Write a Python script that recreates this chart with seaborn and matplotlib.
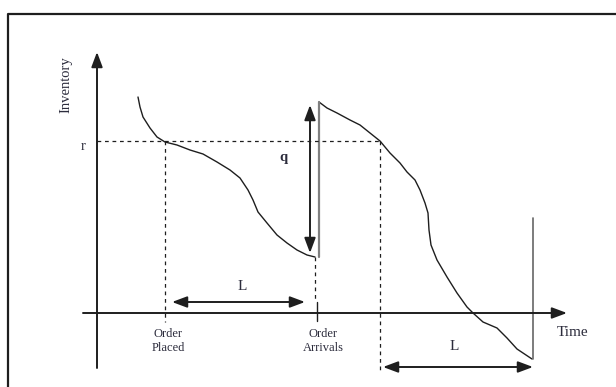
import matplotlib
matplotlib.use("Agg")
import matplotlib.pyplot as plt
import seaborn as sns
import pandas as pd

# inventory curves (time, inventory level)
cycle1_time = [4.1, 4.3, 4.6, 5.3, 6.0, 6.8, 8.0, 9.3, 10.6, 12.0, 13.3, 14.3, 15.1, 15.6,
               16.1, 17.0, 18.0, 19.0, 20.0, 21.0, 21.8]
cycle1_inv = [21.6, 20.6, 19.6, 18.5, 17.6, 17.1, 16.8, 16.3, 15.9, 15.1, 14.3, 13.5, 12.3, 11.3,
              10.1, 9.0, 7.8, 7.0, 6.3, 5.8, 5.6]
cycle2_time = [22.2, 23.0, 24.0, 25.3, 26.3, 27.3, 28.3, 29.3, 30.3, 31.0, 31.8, 32.3, 32.8,
               33.1, 33.2, 33.4, 34.0, 35.0, 36.0, 37.0, 37.6, 38.6, 40.0, 41.0, 42.0, 43.5]
cycle2_inv = [21.1, 20.5, 20.0, 19.3, 18.8, 18.0, 17.2, 16.0, 15.0, 14.1, 13.3, 12.3, 11.0,
              10.0, 8.3, 6.8, 5.3, 3.6, 2.0, 0.6, 0.0, -0.9, -1.5, -2.5, -3.6, -4.6]

reorder_point = 17.2
order_placed = 6.8
order_arrives = 22.0
order2_placed = 28.3
horizon_end = 43.6

sns.set_theme(style="white")
plt.rcParams["font.family"] = ["Liberation Serif", "DejaVu Serif"]

fig = plt.figure(figsize=(6.16, 3.87), dpi=100)
ax = fig.add_axes([0, 0, 1, 1])
ax.set_xlim(-9.7, 51.9)
ax.set_ylim(-7.4, 31.3)
ax.axis("off")

ink = "#1e1e1e"
txt = "#2c2c3c"

# outer frame
ax.plot([-8.9, -8.9, 51.9], [-7.4, 29.9, 29.9], color=ink, lw=1.6, clip_on=False)

# axes with arrows
ax.annotate("", xy=(0, 26.1), xytext=(0, -5.5),
            arrowprops=dict(arrowstyle="-|>,head_length=0.75,head_width=0.28",
                            color=ink, lw=1.4, mutation_scale=12, shrinkA=0, shrinkB=0))
ax.annotate("", xy=(47.0, 0), xytext=(-1.4, 0),
            arrowprops=dict(arrowstyle="-|>,head_length=0.75,head_width=0.28",
                            color=ink, lw=1.4, mutation_scale=12, shrinkA=0, shrinkB=0))

# curves
c1 = pd.DataFrame({"t": cycle1_time, "inv": cycle1_inv})
c2 = pd.DataFrame({"t": cycle2_time, "inv": cycle2_inv})
sns.lineplot(data=c1, x="t", y="inv", sort=False, color=ink, lw=1.0, ax=ax)
sns.lineplot(data=c2, x="t", y="inv", sort=False, color=ink, lw=1.0, ax=ax)

# replenishment jump and end line
ax.plot([cycle2_time[0], cycle2_time[0]], [cycle1_inv[-1], cycle2_inv[0]], color="#808080", lw=1.6)
ax.plot([horizon_end, horizon_end], [9.5, cycle2_inv[-1]], color="#666666", lw=1.2)

# dashed guides
dash = dict(color=ink, lw=0.9, ls=(0, (3, 3)))
ax.plot([0, order2_placed], [reorder_point, reorder_point], **dash)
ax.plot([order_placed, order_placed], [reorder_point, -0.9], **dash)
ax.plot([order_arrives - 0.2, order_arrives - 0.2], [cycle1_inv[-1], 1.1], **dash)
ax.plot([order_arrives, order_arrives], [1.1, -0.8], color=ink, lw=1.0)
ax.plot([order2_placed, order2_placed], [reorder_point, -5.9], **dash)

# double arrows
dbl = dict(arrowstyle="<|-|>,head_length=0.75,head_width=0.28", color=ink, lw=1.4,
           mutation_scale=12, shrinkA=0, shrinkB=0)
ax.annotate("", xy=(7.5, 1.1), xytext=(20.8, 1.1), arrowprops=dbl)
ax.annotate("", xy=(28.6, -5.4), xytext=(43.6, -5.4), arrowprops=dbl)
ax.annotate("", xy=(21.3, 20.8), xytext=(21.3, 6.0), arrowprops=dbl)

# labels
ax.text(-3.1, 22.8, "Inventory", rotation=90, ha="center", va="center", fontsize=10.5, color=txt)
ax.text(-1.4, 16.7, "r", ha="center", va="center", fontsize=10.5, color=txt)
ax.text(18.6, 15.6, "q", ha="center", va="center", fontsize=10.5, color=txt, fontweight="bold")
ax.text(14.5, 2.7, "L", ha="center", va="center", fontsize=11, color=txt)
ax.text(35.7, -3.3, "L", ha="center", va="center", fontsize=11, color=txt)
ax.text(7.1, -2.8, "Order\nPlaced", ha="center", va="center", fontsize=9, color=txt, linespacing=1.3)
ax.text(22.6, -2.8, "Order\nArrivals", ha="center", va="center", fontsize=9, color=txt, linespacing=1.3)
ax.text(46.0, -1.9, "Time", ha="left", va="center", fontsize=11, color=txt)

fig.savefig("out.png", dpi=100)
